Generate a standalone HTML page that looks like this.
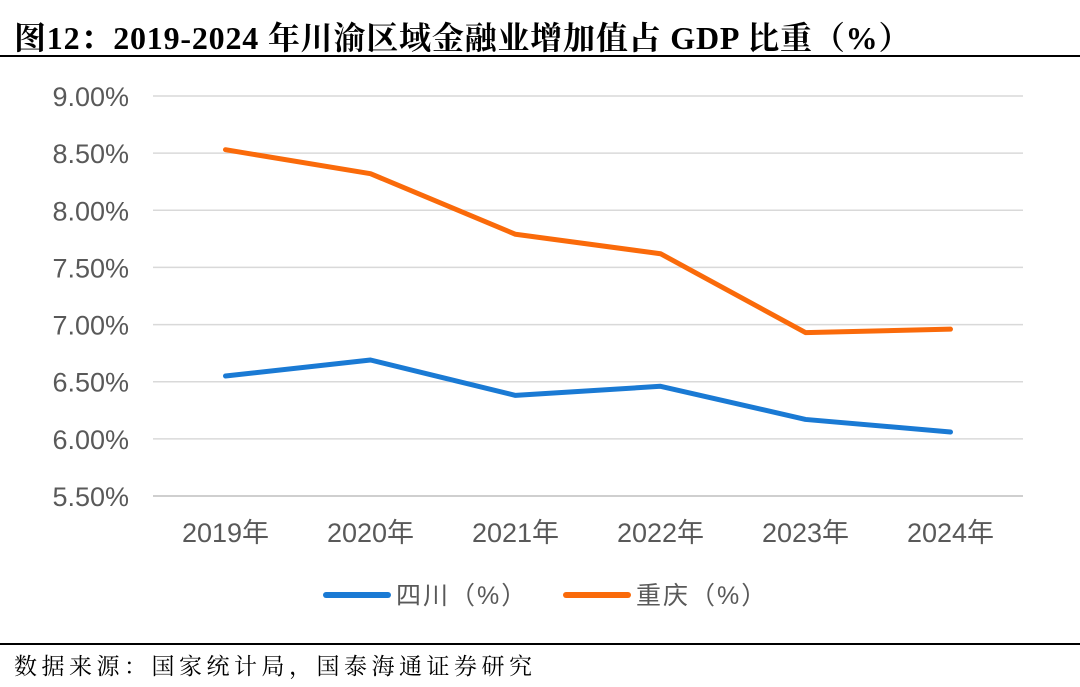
<!DOCTYPE html>
<html><head><meta charset="utf-8">
<style>
body{margin:0;background:#fff;width:1080px;height:687px;overflow:hidden;font-family:"Liberation Sans","Noto Sans CJK SC",sans-serif;}
#title{position:absolute;left:14px;top:13px;font-family:"Liberation Serif","Noto Serif CJK SC",serif;font-weight:bold;font-size:32px;letter-spacing:0.8px;color:#000;white-space:nowrap;}
#src{position:absolute;left:14px;top:648px;font-family:"Liberation Serif","Noto Serif CJK SC",serif;font-size:23px;letter-spacing:4.5px;color:#000;white-space:nowrap;}
.rule{position:absolute;left:0;width:1080px;height:1.5px;background:#000;}
</style></head><body>
<div id="title">图12：2019-2024 年川渝区域金融业增加值占 GDP 比重（%）</div>
<div class="rule" style="top:55px"></div>
<svg id="chart" width="1080" height="687" style="position:absolute;left:0;top:0"></svg>
<div class="rule" style="top:643px"></div>
<div id="src">数据来源：国家统计局，国泰海通证券研究</div>
<script>
const categories=["2019年","2020年","2021年","2022年","2023年","2024年"];
const sichuan=[6.55,6.69,6.38,6.46,6.17,6.06];
const chongqing=[8.53,8.32,7.79,7.62,6.93,6.96];
const yTicks=[5.5,6.0,6.5,7.0,7.5,8.0,8.5,9.0];
const svg=document.getElementById('chart');
const NS='http://www.w3.org/2000/svg';
const pL=153,pR=1023,pT=96,pB=496,ymin=5.5,ymax=9.0;
const xs=i=>pL+(pR-pL)/categories.length*(i+0.5);
const ys=v=>pB-(v-ymin)/(ymax-ymin)*(pB-pT);
function mk(t,a){const e=document.createElementNS(NS,t);for(const k in a)e.setAttribute(k,a[k]);svg.appendChild(e);return e;}
yTicks.forEach(v=>{
  const g=mk('line',{x1:pL,x2:pR,y1:ys(v),y2:ys(v),stroke:v===ymin?'#bfbfbf':'#d9d9d9','stroke-width':1.5});
  
  
  const t=mk('text',{x:129,y:ys(v)+10,'text-anchor':'end','font-size':27,fill:'#595959'});
  t.textContent=v.toFixed(2)+'%';
  
  
});
categories.forEach((c,i)=>{
  const t=mk('text',{x:xs(i),y:542,'text-anchor':'middle','font-size':27,fill:'#595959'});
  t.textContent=c;
  
  
});
function series(d,color,name){
  const p=mk('polyline',{points:d.map((v,i)=>xs(i)+','+ys(v)).join(' '),fill:'none',stroke:color,'stroke-width':5,'stroke-linejoin':'round','stroke-linecap':'round'});
  
  
}
series(sichuan,'#1a7ad4','sichuan-line');
series(chongqing,'#fa6a0a','chongqing-line');
const legend=[['四川（%）','#1a7ad4',326],['重庆（%）','#fa6a0a',566]];
legend.forEach(([n,c,lx])=>{
  const l=mk('line',{x1:lx,x2:lx+62,y1:595,y2:595,stroke:c,'stroke-width':6,'stroke-linecap':'round'});
  
  
  const t=mk('text',{x:lx+70,y:604,'font-size':25,'letter-spacing':2,fill:'#595959'});
  t.textContent=n;
  
  
});
</script>
</body></html>
